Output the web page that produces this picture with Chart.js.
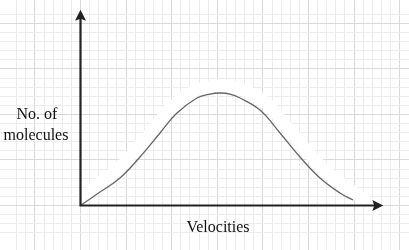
<!DOCTYPE html>
<html>
<head>
<meta charset="utf-8">
<script src="https://cdn.jsdelivr.net/npm/chart.js@4.4.1/dist/chart.umd.min.js"></script>
<style>
  html, body { margin: 0; padding: 0; background: #ffffff; }
  #wrap { position: relative; width: 409px; height: 250px; }
</style>
</head>
<body>
<div id="wrap"><canvas id="c" width="409" height="250"></canvas></div>
<script>
// Velocity (x, in grid cells) and number of molecules (y, in grid cells)
const velocities = [0, 2.14, 4.33, 6.52, 8.72, 10.58, 12.77, 14.20, 15.30, 16.39, 17.49, 19.68, 21.88, 24.07, 26.26, 28.45, 29.88];
const molecules  = [0, 1.48, 3.02, 5.33, 7.97, 10.16, 11.81, 12.25, 12.36, 12.25, 11.81, 10.49, 7.97, 5.33, 3.02, 1.37, 0.60];
// White halo drawn behind the curve
const haloX = [0.38, 1.70, 3.78, 5.98, 8.17, 10.03, 12.45, 14.20, 15.30, 16.61, 18.15, 20.45, 22.64, 24.84, 27.03, 29.33, 31.30, 32.40];
const haloY = [0.82, 2.14, 3.68, 5.99, 8.63, 10.82, 12.58, 13.02, 13.13, 13.02, 12.58, 11.15, 8.63, 5.99, 3.68, 1.92, 0.49, -0.38];
// Axis extents (grid cells)
const xAxisEnd = 33.2;
const yAxisEnd = 21.5;
const yLabelLines = ["No. of", "molecules"];
const xLabel = "Velocities";

const gridColor = (ctx) => {
  const v = ctx.tick.value;
  if (Math.abs(v - Math.round(v)) > 1e-6) return 'rgba(0,0,0,0)';
  return Math.round(v) % 5 === 0 ? '#d9d9d9' : '#ececec';
};

const axesPlugin = {
  id: 'axesPlugin',
  afterDatasetsDraw(chart) {
    const ctx = chart.ctx;
    const xs = chart.scales.x, ys = chart.scales.y;
    const ox = xs.getPixelForValue(0), oy = ys.getPixelForValue(0);
    const xe = xs.getPixelForValue(xAxisEnd), ye = ys.getPixelForValue(yAxisEnd);
    ctx.save();
    ctx.strokeStyle = '#222222';
    ctx.fillStyle = '#222222';
    ctx.lineWidth = 2.2;
    ctx.beginPath();
    ctx.moveTo(ox, ye + 8);
    ctx.lineTo(ox, oy);
    ctx.lineTo(xe - 8, oy);
    ctx.stroke();
    // arrows
    ctx.beginPath();
    ctx.moveTo(ox, ye);
    ctx.lineTo(ox - 5.5, ye + 11);
    ctx.lineTo(ox, ye + 9);
    ctx.lineTo(ox + 5.5, ye + 11);
    ctx.closePath();
    ctx.fill();
    ctx.beginPath();
    ctx.moveTo(xe, oy);
    ctx.lineTo(xe - 11, oy - 5.5);
    ctx.lineTo(xe - 9, oy);
    ctx.lineTo(xe - 11, oy + 5.5);
    ctx.closePath();
    ctx.fill();
    // labels
    ctx.fillStyle = '#111111';
    ctx.font = '16px "Liberation Serif", "Times New Roman", serif';
    ctx.textBaseline = 'alphabetic';
    ctx.textAlign = 'center';
    ctx.fillText(yLabelLines[0], 37, 119);
    ctx.fillText(yLabelLines[1], 36, 140);
    ctx.fillText(xLabel, 218, 232);
    ctx.restore();
  }
};

new Chart(document.getElementById('c'), {
  type: 'line',
  data: {
    datasets: [
      {
        label: 'No. of molecules',
        order: 1,
        data: velocities.map((x, i) => ({ x: x, y: molecules[i] })),
        borderColor: '#666666',
        borderWidth: 1.3,
        pointRadius: 0,
        tension: 0.4,
        fill: false
      },
      {
        label: 'halo',
        order: 2,
        data: haloX.map((x, i) => ({ x: x, y: haloY[i] })),
        borderColor: '#ffffff',
        borderWidth: 12,
        pointRadius: 0,
        tension: 0.4,
        borderCapStyle: 'round',
        fill: false
      }
    ]
  },
  options: {
    responsive: false,
    animation: false,
    events: [],
    layout: { padding: 0 },
    plugins: { legend: { display: false }, tooltip: { enabled: false }, title: { display: false } },
    scales: {
      x: {
        type: 'linear',
        min: -8.827, max: 36.02,
        ticks: { display: false, stepSize: 1, autoSkip: false },
        grid: { color: gridColor, drawTicks: false, lineWidth: 1 },
        border: { display: false }
      },
      y: {
        type: 'linear',
        min: -4.89, max: 22.58,
        ticks: { display: false, stepSize: 1, autoSkip: false },
        grid: { color: gridColor, drawTicks: false, lineWidth: 1 },
        border: { display: false }
      }
    }
  },
  plugins: [axesPlugin]
});
</script>
</body>
</html>
